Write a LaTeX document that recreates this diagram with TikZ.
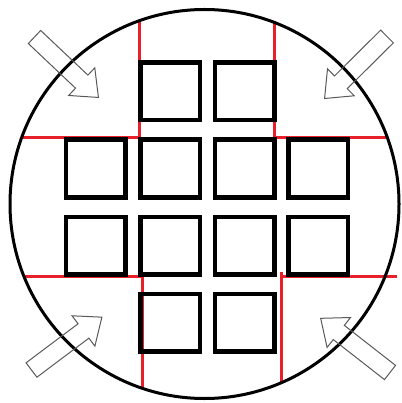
\documentclass[tikz,border=0pt]{standalone}
\begin{document}
\begin{tikzpicture}[x=1pt,y=-1pt,
  sq/.style={draw=black,line width=4.5pt,minimum width=59.5pt,minimum height=57.5pt,inner sep=0pt,fill=none},
  cutline/.style={draw={rgb,255:red,232;green,32;blue,42},line width=2.8pt},
  wafer/.style={draw=black,line width=3pt},
  blockarrow/.style={draw=black!65,line width=1pt,line join=miter}]
\useasboundingbox (0,0) rectangle (401,403);
% red cut lines
\coordinate (tlc) at (139.5,137.5);
\coordinate (trc) at (274.5,137.5);
\coordinate (blc) at (142.5,276.5);
\coordinate (brc) at (281.5,276.5);
\draw[cutline] (139.5,20.7) -- (tlc) -- (21.7,137.5);
\draw[cutline] (274.5,21) -- (trc) -- (387.3,137.5);
\draw[cutline] (24,276.5) -- (blc) -- (142.5,388.4);
\draw[cutline] (397,276.5) -- (brc);
\draw[cutline] (281.5,272) -- (281.5,382.6);
% dies
\node[sq] (d12) at (170,91.5) {};
\node[sq] (d13) at (244.5,91.5) {};
\node[sq] (d21) at (95.5,168.5) {};
\node[sq] (d22) at (170,168.5) {};
\node[sq] (d23) at (244.5,168.5) {};
\node[sq] (d24) at (318,168.5) {};
\node[sq] (d31) at (95.5,245.5) {};
\node[sq] (d32) at (170,245.5) {};
\node[sq] (d33) at (244.5,245.5) {};
\node[sq] (d34) at (318,245.5) {};
\node[sq] (d42) at (170,322.5) {};
\node[sq] (d43) at (244.5,322.5) {};
% wafer outline
\draw[wafer] (204.5,204) circle[radius=194.5];
% block arrows
\def\blockarr{(0,-9) -- (65,-9) -- (65,-19) -- (88,0) -- (65,19) -- (65,9) -- (0,9) -- cycle}
\begin{scope}[shift={(34.5,37)},rotate=-43.4]
  \draw[blockarrow] \blockarr;
\end{scope}
\begin{scope}[shift={(387,36.5)},rotate=-135.2]
  \draw[blockarrow] \blockarr;
\end{scope}
\begin{scope}[shift={(31.5,370)},rotate=36.9]
  \draw[blockarrow] \blockarr;
\end{scope}
\begin{scope}[shift={(390,372.5)},rotate=142]
  \draw[blockarrow] \blockarr;
\end{scope}
\end{tikzpicture}
\end{document}
